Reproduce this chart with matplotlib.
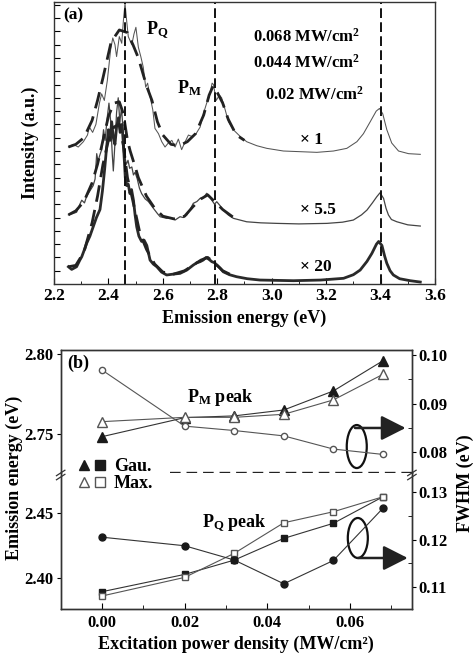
import matplotlib
matplotlib.use('Agg')
import matplotlib.pyplot as plt
from matplotlib.patches import Ellipse
from matplotlib.lines import Line2D
from matplotlib.legend_handler import HandlerTuple
from matplotlib.ticker import MultipleLocator

# ---------------- panel (a) data: PL spectra, intensity in a.u. ----------------
# x1 spectrum (0.068 MW/cm2)
top_E = [2.253, 2.271, 2.289, 2.308, 2.323, 2.330, 2.342, 2.354, 2.367, 2.375, 2.385, 2.396,
         2.408, 2.416, 2.424, 2.430, 2.440, 2.449, 2.455, 2.461, 2.467, 2.473, 2.486, 2.494,
         2.501, 2.510, 2.519, 2.528, 2.537, 2.544, 2.553, 2.563, 2.571, 2.584, 2.596, 2.608,
         2.620, 2.633, 2.645, 2.657, 2.669, 2.682, 2.694, 2.706, 2.722, 2.737, 2.749, 2.761,
         2.771, 2.781, 2.786, 2.796, 2.808, 2.816, 2.829, 2.841, 2.859, 2.884, 2.908, 2.945,
         2.982, 3.043, 3.104, 3.166, 3.227, 3.276, 3.313, 3.337, 3.362, 3.384, 3.396, 3.408,
         3.423, 3.441, 3.466, 3.503, 3.546]
top_I = [10.3, 10.5, 10.3, 10.7, 11.2, 11.8, 11.4, 12.0, 13.6, 14.3, 13.8, 15.3,
         17.6, 18.5, 18.0, 17.1, 18.6, 18.1, 19.8, 21.1, 19.8, 18.6, 18.0, 18.8,
         19.3, 17.8, 17.1, 16.3, 14.8, 15.1, 14.1, 13.1, 11.7, 11.3, 10.7, 10.3,
         10.6, 10.8, 10.3, 10.9, 10.1, 10.7, 11.2, 11.1, 11.3, 11.8, 12.8, 13.6,
         14.1, 15.1, 15.0, 13.8, 14.2, 14.0, 13.1, 12.2, 11.6, 11.1, 10.7, 10.4,
         10.2, 10.0, 9.95, 9.9, 10.0, 10.2, 10.7, 11.3, 12.2, 13.0, 13.2, 12.8,
         11.6, 10.6, 10.0, 9.8, 9.75]
top_fit_E = [2.253, 2.28, 2.31, 2.34, 2.36, 2.38, 2.41, 2.44, 2.47, 2.49, 2.51, 2.54, 2.56,
             2.58, 2.60, 2.63, 2.66, 2.69, 2.72, 2.75, 2.77, 2.785, 2.80, 2.82, 2.84, 2.87, 2.90]
top_fit_I = [10.3, 10.5, 11.0, 12.3, 13.8, 15.5, 18.2, 19.1, 18.9, 18.0, 17.0, 14.9, 13.8,
             12.2, 11.2, 10.5, 10.4, 10.7, 11.3, 12.7, 14.2, 14.9, 14.4, 13.6, 12.4, 11.2, 10.8]

# x5.5 spectrum (0.044 MW/cm2)
mid_E = [2.253, 2.270, 2.283, 2.295, 2.302, 2.312, 2.320, 2.332, 2.344, 2.351, 2.357, 2.362,
         2.367, 2.375, 2.382, 2.388, 2.395, 2.402, 2.408, 2.414, 2.418, 2.424, 2.430, 2.436,
         2.442, 2.448, 2.454, 2.460, 2.466, 2.472, 2.478, 2.486, 2.492, 2.498, 2.506, 2.514,
         2.522, 2.535, 2.547, 2.565, 2.58, 2.59, 2.602, 2.614, 2.63, 2.645, 2.663, 2.675,
         2.688, 2.70, 2.712, 2.725, 2.737, 2.75, 2.761, 2.772, 2.78, 2.79, 2.798, 2.81,
         2.822, 2.84, 2.859, 2.908, 2.96, 3.019, 3.10, 3.203, 3.26, 3.30, 3.33, 3.35,
         3.37, 3.386, 3.398, 3.411, 3.42, 3.429, 3.44, 3.46, 3.50, 3.546]
mid_I = [5.2, 5.3, 5.4, 6.0, 6.3, 6.1, 6.6, 7.0, 7.4, 7.9, 9.8, 9.2,
         9.6, 10.1, 11.6, 10.8, 12.4, 13.6, 12.3, 9.8, 8.5, 10.6, 12.9, 14.0,
         12.2, 13.2, 11.6, 9.6, 9.0, 9.3, 8.7, 8.8, 8.2, 8.4, 7.9, 7.2,
         6.8, 6.4, 6.2, 5.7, 5.3, 5.06, 5.0, 4.94, 5.0, 4.81, 5.06, 5.0,
         5.19, 5.6, 6.07, 6.2, 6.44, 6.5, 6.82, 6.6, 6.3, 6.0, 6.19, 5.9,
         5.56, 5.2, 4.94, 4.68, 4.6, 4.56, 4.52, 4.56, 4.65, 4.81, 5.2, 5.56,
         6.1, 6.56, 6.86, 6.44, 5.7, 5.19, 4.85, 4.68, 4.45, 4.36]
mid_fit_E = [2.253, 2.28, 2.31, 2.34, 2.36, 2.38, 2.40, 2.42, 2.44, 2.455, 2.47, 2.48, 2.50,
             2.51, 2.54, 2.57, 2.60, 2.64, 2.68, 2.71, 2.74, 2.765, 2.79, 2.82, 2.86]
mid_fit_I = [5.2, 5.5, 6.2, 7.6, 9.0, 10.8, 12.6, 13.6, 13.7, 12.8, 10.8, 10.0, 8.7,
             8.0, 6.6, 5.7, 5.1, 4.9, 5.1, 5.8, 6.4, 6.7, 6.2, 5.6, 5.0]

# x20 spectrum (0.02 MW/cm2)
bot_E = [2.253, 2.265, 2.283, 2.295, 2.302, 2.312, 2.320, 2.332, 2.344, 2.356, 2.369, 2.378,
         2.386, 2.393, 2.400, 2.406, 2.412, 2.418, 2.424, 2.430, 2.437, 2.443, 2.450, 2.456,
         2.462, 2.467, 2.473, 2.479, 2.485, 2.492, 2.498, 2.504, 2.512, 2.522, 2.531, 2.541,
         2.553, 2.565, 2.578, 2.595, 2.614, 2.64, 2.663, 2.688, 2.712, 2.725, 2.737, 2.748,
         2.759, 2.77, 2.78, 2.79, 2.798, 2.81, 2.822, 2.845, 2.871, 2.91, 2.957, 3.08,
         3.18, 3.264, 3.30, 3.325, 3.35, 3.368, 3.385, 3.393, 3.405, 3.415, 3.423, 3.435,
         3.447, 3.47, 3.509, 3.546]
bot_I = [1.3, 1.1, 1.3, 1.8, 2.05, 2.6, 3.06, 3.6, 4.3, 5.0, 5.6, 7.0,
         8.6, 10.2, 11.6, 10.8, 12.2, 11.0, 10.5, 11.8, 12.5, 11.4, 12.0, 10.2,
         8.0, 7.4, 7.5, 6.8, 7.1, 6.3, 5.2, 4.3, 3.6, 3.2, 3.3, 2.9,
         1.8, 1.5, 1.3, 0.9, 0.68, 0.75, 0.8, 1.05, 1.43, 1.6, 1.68, 1.8,
         2.0, 1.85, 1.68, 1.6, 1.43, 1.2, 0.92, 0.7, 0.55, 0.4, 0.3, 0.25,
         0.3, 0.43, 0.7, 1.05, 1.7, 2.3, 3.0, 3.2, 2.9, 2.1, 1.56, 1.0,
         0.68, 0.4, 0.25, 0.15]
bot_fit_E = [2.253, 2.28, 2.31, 2.34, 2.36, 2.38, 2.40, 2.42, 2.44, 2.455, 2.47, 2.486, 2.50,
             2.516, 2.54, 2.57, 2.60, 2.64, 2.68, 2.71, 2.74, 2.765, 2.79, 2.82, 2.86]
bot_fit_I = [1.3, 1.4, 2.4, 4.6, 6.6, 9.0, 10.8, 11.8, 12.0, 10.4, 8.0, 6.6, 5.3,
             3.8, 2.6, 1.5, 0.9, 0.75, 1.0, 1.4, 1.8, 2.0, 1.6, 1.0, 0.6]

peak_lines = [2.46, 2.79, 3.40]

# ---------------- panel (b) data ----------------
power = [0.0, 0.02, 0.032, 0.044, 0.056, 0.068]
pm_gau = [2.7483, 2.7602, 2.7613, 2.7650, 2.7769, 2.7958]
pm_max = [2.7577, 2.7604, 2.7604, 2.7623, 2.7713, 2.7873]
pm_fwhm = [0.0969, 0.0854, 0.0845, 0.0834, 0.0807, 0.0796]
pq_gau = [2.3895, 2.4028, 2.4138, 2.4305, 2.4421, 2.4625]
pq_max = [2.3862, 2.4005, 2.4190, 2.4425, 2.4510, 2.4625]
pq_fwhm = [0.1205, 0.1187, 0.1157, 0.1107, 0.1156, 0.1266]

plt.rcParams['font.family'] = ['Liberation Serif', 'DejaVu Serif']
plt.rcParams['font.weight'] = 'bold'
plt.rcParams['axes.labelweight'] = 'bold'
plt.rcParams['mathtext.fontset'] = 'custom'
plt.rcParams['mathtext.rm'] = 'Liberation Serif:bold'
plt.rcParams['mathtext.it'] = 'Liberation Serif:bold'
plt.rcParams['mathtext.bf'] = 'Liberation Serif:bold'
plt.rcParams['axes.edgecolor'] = '#333333'
plt.rcParams['axes.linewidth'] = 1.0

fig = plt.figure(figsize=(4.74, 6.54), dpi=100)

# ===== panel (a) =====
ax = fig.add_axes([0.1139, 0.5657, 0.8038, 0.4312])
ax.plot(top_E, top_I, color='#555555', lw=0.75)
ax.plot(mid_E, mid_I, color='#444444', lw=0.9)
ax.plot(bot_E, bot_I, color='#2a2a2a', lw=2.0)
for fe, fi in [(top_fit_E, top_fit_I), (mid_fit_E, mid_fit_I), (bot_fit_E, bot_fit_I)]:
    ax.plot(fe, fi, color='#222222', lw=2.0, dashes=(6, 3))
for e in peak_lines:
    ax.axvline(e, color='#111111', lw=1.4, dashes=(5, 2.2))

ax.set_xlim(2.2, 3.6)
ax.set_ylim(0, 21.2)
ax.set_xticks([2.2, 2.4, 2.6, 2.8, 3.0, 3.2, 3.4, 3.6])
ax.set_xticklabels(['2.2', '2.4', '2.6', '2.8', '3.0', '3.2', '3.4', '3.6'])
ax.xaxis.set_minor_locator(MultipleLocator(0.1))
ax.set_yticks(range(1, 22))
ax.set_yticklabels([])
ax.tick_params(axis='x', which='major', direction='in', length=4, labelsize=12.5, pad=3)
ax.tick_params(axis='x', which='minor', direction='in', length=2.5)
ax.tick_params(axis='y', direction='in', length=4)
ax.set_xlabel('Emission energy (eV)', fontsize=13, labelpad=4)
ax.set_ylabel('Intensity (a.u.)', fontsize=13, labelpad=7)

ax.text(2.233, 20.2, '(a)', fontsize=12.5, va='center')
ax.text(2.538, 19.1, r'P$_{\rm Q}$', fontsize=13, va='center')
ax.text(2.652, 14.7, r'P$_{\rm M}$', fontsize=13, va='center')
ax.text(2.932, 18.6, '0.068 MW/cm$^{\\rm 2}$', fontsize=12, va='center')
ax.text(2.932, 16.6, '0.044 MW/cm$^{\\rm 2}$', fontsize=12, va='center')
ax.text(2.976, 14.2, '0.02 MW/cm$^{\\rm 2}$', fontsize=12, va='center')
ax.text(3.104, 10.8, '\u00d7 1', fontsize=12.5, va='center')
ax.text(3.104, 5.6, '\u00d7 5.5', fontsize=12.5, va='center')
ax.text(3.104, 1.3, '\u00d7 20', fontsize=12.5, va='center')

# ===== panel (b) =====
axu = fig.add_axes([0.128, 0.2768, 0.741, 0.188])
axl = fig.add_axes([0.128, 0.0688, 0.741, 0.208])
axu2 = axu.twinx()
axl2 = axl.twinx()

gray = '#555555'
dark = '#1a1a1a'
axu.plot(power, pm_gau, color='#333333', lw=0.8, marker='^', ms=6.5, mfc=dark, mec=dark)
axu.plot(power, pm_max, color=gray, lw=0.8, marker='^', ms=6.5, mfc='white', mec=gray)
axu2.plot(power, pm_fwhm, color=gray, lw=0.8, marker='o', ms=4.5, mfc='white', mec=gray)
axl.plot(power, pq_gau, color='#333333', lw=0.8, marker='s', ms=5, mfc=dark, mec=dark)
axl.plot(power, pq_max, color=gray, lw=0.8, marker='s', ms=5, mfc='white', mec=gray)
axl2.plot(power, pq_fwhm, color='#333333', lw=0.8, marker='o', ms=5, mfc=dark, mec=dark)

for a in (axu, axu2, axl, axl2):
    a.set_xlim(-0.01, 0.075)
axu.set_ylim(2.7256, 2.8025)
axu2.set_ylim(0.0758, 0.101)
axl.set_ylim(2.3762, 2.4808)
axl2.set_ylim(0.1054, 0.134)

for a in (axu, axu2):
    a.spines['bottom'].set_visible(False)
    a.tick_params(axis='x', which='both', bottom=False, top=False, labelbottom=False)
for a in (axl, axl2):
    a.spines['top'].set_visible(False)

axu.set_yticks([2.75, 2.80])
axu.set_yticklabels(['2.75', '2.80'])
axl.set_yticks([2.40, 2.45])
axl.set_yticklabels(['2.40', '2.45'])
axu2.set_yticks([0.08, 0.09, 0.10])
axu2.set_yticklabels(['0.08', '0.09', '0.10'])
axu2.set_yticks([0.085, 0.095], minor=True)
axl2.set_yticks([0.11, 0.12, 0.13])
axl2.set_yticklabels(['0.11', '0.12', '0.13'])
axl2.set_yticks([0.115, 0.125], minor=True)
for a in (axu, axl, axu2, axl2):
    a.tick_params(axis='y', which='major', direction='out', length=3, labelsize=12, pad=2)
    a.tick_params(axis='y', which='minor', direction='in', length=3)

axl.set_xticks([0.0, 0.02, 0.04, 0.06])
axl.set_xticklabels(['0.00', '0.02', '0.04', '0.06'])
axl.xaxis.set_minor_locator(MultipleLocator(0.01))
axl.tick_params(axis='x', which='major', direction='in', length=4, labelsize=12, pad=4)
axl.tick_params(axis='x', which='minor', direction='in', length=3)
axl2.tick_params(axis='x', which='both', bottom=False, top=False)
axl.set_xlabel('Excitation power density (MW/cm\u00b2)', fontsize=13, labelpad=4)

fig.text(0.03, 0.269, 'Emission energy (eV)', rotation=90, fontsize=13,
         ha='center', va='center')
fig.text(0.981, 0.261, 'FWHM (eV)', rotation=90, fontsize=13, ha='center', va='center')

# dashed separator and axis break marks
axu.plot([0.311, 1.0], [0, 0], transform=axu.transAxes, color='#222222', lw=1.7,
         dashes=(4.5, 2.5), clip_on=False)
for xb in (0.0, 1.0):
    for yo in (0.0, -0.03):
        axl.plot([xb - 0.012, xb + 0.012], [1.0 + yo - 0.02, 1.0 + yo + 0.02],
                 transform=axl.transAxes, color='#333333', lw=0.9, clip_on=False)

axu.text(0.018, 0.894, '(b)', transform=axu.transAxes, fontsize=13, va='center')
axu.text(0.36, 0.61, r'P$_{\rm M}$ peak', transform=axu.transAxes, fontsize=13, va='center')
axl.text(0.402, 0.632, r'P$_{\rm Q}$ peak', transform=axl.transAxes, fontsize=13, va='center')

# ellipses with arrows pointing to the FWHM axis
axu2.add_patch(Ellipse((0.843, 0.215), 0.057, 0.35, transform=axu2.transAxes,
                       fill=False, ec='#111111', lw=1.6))
axu2.annotate('', xy=(0.982, 0.366), xytext=(0.838, 0.366), xycoords='axes fraction',
              arrowprops=dict(arrowstyle='-|>,head_length=0.75,head_width=0.38',
                              mutation_scale=20, lw=1.8, color='#222222', shrinkA=0, shrinkB=0))
axl2.add_patch(Ellipse((0.846, 0.522), 0.057, 0.294, transform=axl2.transAxes,
                       fill=False, ec='#111111', lw=1.6))
axl2.annotate('', xy=(0.988, 0.375), xytext=(0.846, 0.375), xycoords='axes fraction',
              arrowprops=dict(arrowstyle='-|>,head_length=0.75,head_width=0.38',
                              mutation_scale=20, lw=1.8, color='#222222', shrinkA=0, shrinkB=0))

# legend
h_gau = (Line2D([], [], ls='none', marker='^', ms=7, mfc=dark, mec=dark),
         Line2D([], [], ls='none', marker='s', ms=7.5, mfc=dark, mec=dark))
h_max = (Line2D([], [], ls='none', marker='^', ms=7, mfc='white', mec=gray),
         Line2D([], [], ls='none', marker='s', ms=7.5, mfc='white', mec=gray))
fig.legend([h_gau, h_max], ['Gau.', 'Max.'], handler_map={tuple: HandlerTuple(ndivide=None, pad=0.1)},
           loc='center left', bbox_to_anchor=(0.143, 0.273), frameon=False, fontsize=13,
           handlelength=1.7, handletextpad=0.35, labelspacing=0.0, borderpad=0)

fig.savefig('out.png', dpi=100)
